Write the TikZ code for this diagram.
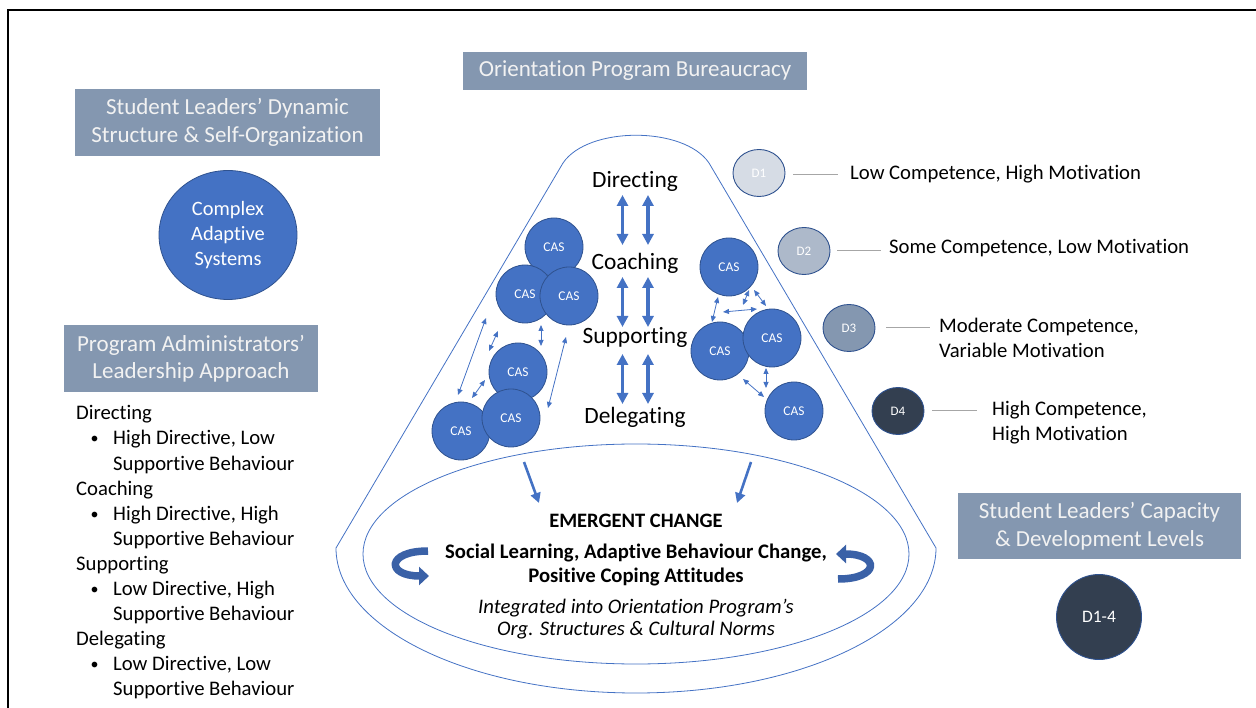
\documentclass[tikz,border=0pt]{standalone}
\usepackage{fontspec}
\setmainfont{Carlito}[Ligatures=NoCommon]
\usetikzlibrary{arrows.meta,shapes.geometric}
\definecolor{hdrgray}{HTML}{8497B0}
\definecolor{casblue}{HTML}{4472C4}
\definecolor{casedge}{HTML}{2F528F}
\definecolor{dA}{HTML}{D6DCE5}
\definecolor{dB}{HTML}{ADB9CA}
\definecolor{dC}{HTML}{8497B0}
\definecolor{dD}{HTML}{333F50}
\definecolor{lgray}{HTML}{A6A6A6}
\definecolor{boxtxt}{HTML}{F2F2F2}
\newcommand{\myfs}[2]{\fontsize{#1}{#2}\selectfont}
\begin{document}
\begin{tikzpicture}[x=1pt,y=-1pt,
 hdr/.style={rectangle, fill=hdrgray, text=boxtxt, align=center, inner sep=0pt, font=\myfs{23}{27.5}},
 cas/.style={circle, fill=casblue, draw=casedge, line width=0.8pt, minimum size=58pt, inner sep=0pt, text=white, font=\myfs{13.4}{14}},
 lev/.style={ellipse, draw=casedge, line width=0.9pt, minimum width=52pt, minimum height=47pt, inner sep=0pt, text=white, font=\myfs{13}{14}},
 body/.style={inner sep=0pt, anchor=base west, font=\myfs{20.7}{25}},
 bul/.style={inner sep=0pt, anchor=base, font=\myfs{16}{25}},
 stage/.style={inner sep=0pt, anchor=base, font=\myfs{23.4}{26}},
 cone/.style={draw=casblue, line width=0.8pt},
 bigdbl/.style={casblue, line width=3.2pt, {Triangle[width=11pt,length=11pt]}-{Triangle[width=11pt,length=11pt]}},
 smalldbl/.style={casblue, line width=0.8pt, {Triangle[width=5pt,length=6pt]}-{Triangle[width=5pt,length=6pt]}},
 downarr/.style={casblue, line width=2.6pt, -{Triangle[width=10pt,length=10pt]}},
 ribbon/.style={casblue!85!black, line width=7.5pt, -{Triangle[width=18pt,length=10pt]}},
 gline/.style={lgray, line width=1pt}
]
\useasboundingbox (0,0) rectangle (1256,708);
\draw[line width=2pt] (8,708) -- (8,10) -- (1256,10);

% headers
\node[hdr, minimum width=344pt, minimum height=38pt] (bur) at (635,71) {Orientation Program Bureaucracy};
\node[hdr, minimum width=305pt, minimum height=67pt] (dyn) at (227.5,122.5) {Student Leaders’ Dynamic\\Structure \& Self-Organization};
\node[hdr, minimum width=254pt, minimum height=67pt] (adm) at (191,358.5) {Program Administrators’\\Leadership Approach};
\node[hdr, minimum width=283pt, minimum height=66pt] (cap) at (1099.5,526) {Student Leaders’ Capacity\\\& Development Levels};

\node[ellipse, fill=casblue, draw=casedge, line width=0.8pt, minimum width=138pt, minimum height=129pt, inner sep=0pt, text=white, align=center, font=\myfs{20.4}{25}] (cx) at (228,235) {Complex\\Adaptive\\Systems};

% list
\node[body] (l1) at (76,420) {Directing};
\node[bul] (b1) at (94.5,444) {•};
\node[body] (l2) at (113,445) {High Directive, Low};
\node[body] (l3) at (113,470) {Supportive Behaviour};
\node[body] (l4) at (76,495) {Coaching};
\node[bul] (b2) at (94.5,519) {•};
\node[body] (l5) at (113,520) {High Directive, High};
\node[body] (l6) at (113,545) {Supportive Behaviour};
\node[body] (l7) at (76,570) {Supporting};
\node[bul] (b3) at (94.5,594) {•};
\node[body] (l8) at (113,595) {Low Directive, High};
\node[body] (l9) at (113,620) {Supportive Behaviour};
\node[body] (l10) at (76,645) {Delegating};
\node[bul] (b4) at (94.5,669) {•};
\node[body] (l11) at (113,670) {Low Directive, Low};
\node[body] (l12) at (113,695) {Supportive Behaviour};

% cone
\draw[cone] (336,548) -- (563,163) .. controls (588,126) and (684,126) .. (709,163) -- (936,548) arc[start angle=0, end angle=180, x radius=300, y radius=145] -- cycle;
\draw[cone] (636,554) ellipse[x radius=273, y radius=110];

% stages
\node[stage] (dir) at (635,188) {Directing};
\node[stage] (coa) at (635,270) {Coaching};
\node[stage] (sup) at (635,344) {Supporting};
\node[stage] (del) at (635,424) {Delegating};
\draw[bigdbl] (622.5,195) -- (622.5,245);
\draw[bigdbl] (648,195) -- (648,245);
\draw[bigdbl] (622.5,277) -- (622.5,327);
\draw[bigdbl] (648,277) -- (648,327);
\draw[bigdbl] (622.5,354) -- (622.5,404);
\draw[bigdbl] (648,354) -- (648,404);

% CAS circles left
\node[cas] (c1) at (554,247) {CAS};
\node[cas] (c2) at (525,294) {CAS};
\node[cas] (c3) at (569,296) {CAS};
\node[cas] (c6) at (461,431) {CAS};
\node[cas] (c4) at (518,372) {CAS};
\node[cas] (c5) at (511,418) {CAS};
% CAS circles right
\node[cas] (r1) at (729,267) {CAS};
\node[cas] (r2) at (720,351) {CAS};
\node[cas] (r3) at (772,338) {CAS};
\node[cas] (r4) at (794,411) {CAS};

% small arrows
\draw[smalldbl] (486,318) -- (458,395);
\draw[smalldbl] (498,331) -- (489,351);
\draw[smalldbl] (541,325) -- (541,346);
\draw[smalldbl] (485,380) -- (472,398);
\draw[smalldbl] (566,337) -- (548,408);
\draw[smalldbl] (718,297) -- (712,322);
\draw[smalldbl] (749,290) -- (743,305);
\draw[smalldbl] (754,290) -- (766,306);
\draw[smalldbl] (723,312) -- (757,309);
\draw[smalldbl] (766,368) -- (766,388);
\draw[smalldbl] (743,379) -- (764,397);

% down arrows
\draw[downarr] (524,462) -- (539,503);
\draw[downarr] (751,462) -- (737,503);

% emergent text
\node[font=\bfseries\myfs{20.5}{24}] (em) at (636,521) {EMERGENT CHANGE};
\node[font=\bfseries\myfs{20.7}{23.5}, align=center] (soc) at (636,565) {Social Learning, Adaptive Behaviour Change,\\Positive Coping Attitudes};
\node[font=\itshape\myfs{20.7}{22}, align=center] (integ) at (636,619) {Integrated into Orientation Program’s\\Org. Structures \& Cultural Norms};

% ribbon arrows
\draw[ribbon] (428,551) .. controls (386,551) and (386,576) .. (429,576);
\draw[ribbon] (838,579) .. controls (880,579) and (880,554) .. (836,554);

% development levels
\node[lev, fill=dA] (d1) at (759,173) {D1};
\node[lev, fill=dB] (d2) at (804,251) {D2};
\node[lev, fill=dC] (d3) at (849,328) {D3};
\node[lev, fill=dD] (d4) at (898,411) {D4};
\draw[gline] (793,175) -- (838,175);
\draw[gline] (837,251) -- (881,251);
\draw[gline] (886,328) -- (930,328);
\draw[gline] (932,411) -- (977,411);
\node[body] (t1) at (850,180) {Low Competence, High Motivation};
\node[body] (t2) at (889,254) {Some Competence, Low Motivation};
\node[body] (t3a) at (939,333) {Moderate Competence,};
\node[body] (t3b) at (939,358) {Variable Motivation};
\node[body] (t4a) at (992,416) {High Competence,};
\node[body] (t4b) at (992,441) {High Motivation};

\node[circle, fill=dD, draw=casedge, line width=0.9pt, minimum size=85pt, inner sep=0pt, text=white, font=\myfs{17.5}{20}] (dall) at (1099,617) {D1-4};
\end{tikzpicture}
\end{document}
